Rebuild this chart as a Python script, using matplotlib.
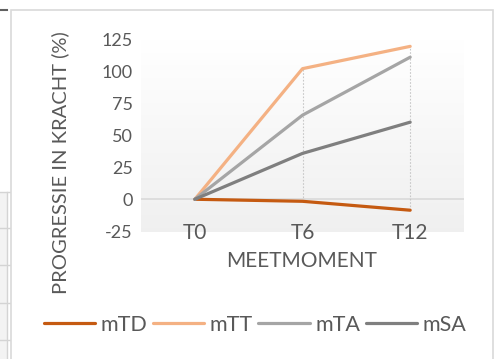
import numpy as np
import matplotlib.pyplot as plt
from matplotlib.lines import Line2D
from matplotlib.patches import Rectangle

plt.rcParams['font.family'] = ['Lato', 'DejaVu Sans']

momenten = ['T0', 'T6', 'T12']
mTD = [0, -1.6, -8.6]
mTT = [0, 102.5, 120]
mTA = [0, 66, 111.5]
mSA = [0, 36, 60.5]
reeksen = ['mTD', 'mTT', 'mTA', 'mSA']
kleuren = ['#C55A11', '#F4B183', '#A5A5A5', '#7F7F7F']
yticks = [-25, 0, 25, 50, 75, 100, 125]

W, H = 495, 359
fig = plt.figure(figsize=(W / 100, H / 100), dpi=100)
fig.patch.set_facecolor('white')

# spreadsheet cells behind the chart
fig.patches.append(Rectangle((0, 0), 7 / W, 1 - 192 / H, transform=fig.transFigure,
                             facecolor='#F3F3F3', edgecolor='none', zorder=-3))
for yy in [192, 228, 265, 303, 340]:
    fig.add_artist(Line2D([0, 10 / W], [1 - yy / H] * 2, color='#D4D4D4', lw=1, zorder=-2))
fig.add_artist(Line2D([7 / W] * 2, [0, 1 - 192 / H], color='#D4D4D4', lw=1, zorder=-2))
fig.add_artist(Line2D([0, 7 / W], [1 - 10 / H] * 2, color='#606060', lw=1.5, zorder=-2))

# chart frame
fig.patches.append(Rectangle((10.5 / W, -0.05), (493 - 10.5) / W, 1.05 - 9.5 / H,
                             transform=fig.transFigure, facecolor='white',
                             edgecolor='#D9D9D9', lw=1.2, zorder=-1))

ax = fig.add_axes([141 / W, 1 - 232 / H, (464 - 141) / W, (232 - 40) / H])
ax.set_facecolor('none')
x = np.arange(len(momenten))
ax.set_xlim(-0.5, len(momenten) - 0.5)
ax.set_ylim(-25.7, 125)

# plot area gradient, white at the top to light grey at the bottom
g = np.linspace(1.0, 0.94, 256)
grad = np.dstack([g, g, g]).reshape(256, 1, 3)
ax.imshow(grad, extent=[-0.5, 2.5, -25.7, 125], aspect='auto', zorder=0, origin='upper')

ax.axhline(0, color='#D9D9D9', lw=1.2, zorder=1)

# high-low lines
data = [mTD, mTT, mTA, mSA]
for i in x[1:]:
    vals = [d[i] for d in data]
    ax.vlines(i, min(vals), max(vals), colors='#C8C8C8', linestyles=(0, (1.5, 1.5)), lw=0.8, zorder=2)

for naam, d, k in zip(reeksen, data, kleuren):
    ax.plot(x, d, color=k, lw=2.3, label=naam, solid_capstyle='round', zorder=3)

# category labels sit on the -25 row
for xi, m in zip(x, momenten):
    ax.text(xi, -25, m, fontsize=15, color='#595959', ha='center', va='center_baseline', zorder=4)
ax.set_xticks([])
ax.set_yticks(yticks)
ax.set_yticklabels([str(v) for v in yticks], fontsize=13, color='#595959')
ax.tick_params(length=0)
ax.tick_params(axis='y', pad=6)
for s in ax.spines.values():
    s.set_visible(False)

fig.text(302 / W, 1 - 261 / H, 'MEETMOMENT', fontsize=15, color='#595959',
         ha='center', va='center')
fig.text(60 / W, 1 - 163 / H, 'PROGRESSIE IN KRACHT (%)', rotation=90, fontsize=14.5,
         color='#595959', ha='center', va='center')

fig.legend(loc='center', bbox_to_anchor=(255 / W, 1 - 325 / H), ncol=4, frameon=False,
           fontsize=15.5, handlelength=2.4, handletextpad=0.25, columnspacing=0.25,
           labelcolor='#595959')

fig.savefig('out.png', dpi=100, facecolor='white')
